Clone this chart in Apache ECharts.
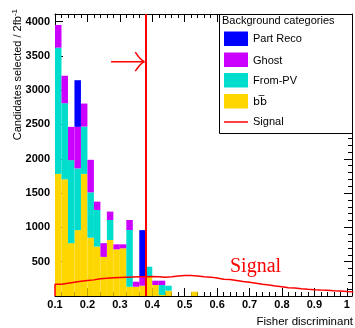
<!DOCTYPE html>
<html><head><meta charset="utf-8">
<script src="https://cdn.jsdelivr.net/npm/echarts@6/dist/echarts.min.js"></script>
<style>html,body{margin:0;padding:0;background:#fff}#c{width:355px;height:328px}</style>
</head><body><div id="c"></div>
<script>
// ---- data ----
const binStarts = [0.10,0.12,0.14,0.16,0.18,0.20,0.22,0.24,0.26,0.28,0.30,0.32,0.34,0.36,0.38,0.40,0.42,0.44,0.46,0.48,0.50,0.52];
const binWidth = 0.02;
const bbbar    = [1780,1700,770,960,1780,850,720,570,816,680,695,135,135,150,280,160,15,77,0,0,0,63];
const fromPV   = [1840,1110,1210,900,690,660,534,0,292,0,0,827,0,0,147,0,145,73,0,0,0,0];
const ghost    = [330,400,485,605,335,475,121,200,122,73,58,146,73,130,0,63,63,0,0,0,0,0];
const partReco = [0,0,0,680,0,0,0,0,0,0,0,0,0,680,0,0,0,0,0,0,0,0];
const signalStart = 0.10;
const signal = [170,185,200,215,225,235,250,258,265,270,275,278,280,282,285,280,275,280,290,300,300,290,280,275,262,245,240,225,210,200,185,170,160,145,135,120,115,105,97,92,88,85,78,72,65,62];
const cutValue = 0.378;
const arrow = [[0.273, 3415, 0.3755]];
const xTickLabels = ['0.1','0.2','0.3','0.4','0.5','0.6','0.7','0.8','0.9','1'];
const yTickLabels = ['500','1000','1500','2000','2500','3000','3500','4000'];

const colors = {part:'#0000ff', ghost:'#cc00ff', pv:'#00ddcc', bb:'#ffd700', sig:'#ff0000'};
const FONT = 'Liberation Sans, Arial, Helvetica, sans-serif';

// stacked bases
const layers = [
  {name:'bb', vals:bbbar, color:colors.bb},
  {name:'From-PV', vals:fromPV, color:colors.pv},
  {name:'Ghost', vals:ghost, color:colors.ghost},
  {name:'Part Reco', vals:partReco, color:colors.part}
];
const base = binStarts.map(()=>0);
const series = [];
layers.forEach(l=>{
  const data = [];
  binStarts.forEach((x,i)=>{
    if (l.vals[i] > 0) data.push([x, +(x+binWidth).toFixed(3), base[i], base[i]+l.vals[i]]);
    base[i] += l.vals[i];
  });
  series.push({
    type:'custom', name:l.name, silent:true, data, clip:true,
    encode:{x:[0,1], y:[2,3]},
    renderItem:(params, api)=>{
      const p0 = api.coord([api.value(0), api.value(2)]);
      const p1 = api.coord([api.value(1), api.value(3)]);
      return {type:'rect', shape:{x:p0[0], y:p1[1], width:p1[0]-p0[0], height:p0[1]-p1[1]},
              style:{fill:l.color, stroke:null}};
    }
  });
});

// signal step line
const sigData = [[signalStart, 0]];
signal.forEach((v,i)=>{
  const x0 = +(signalStart + i*binWidth).toFixed(3);
  const x1 = +(signalStart + (i+1)*binWidth).toFixed(3);
  sigData.push([x0, v], [x1, v]);
});
series.push({
  type:'line', name:'Signal', data:sigData, showSymbol:false, symbol:'none', silent:true, clip:true,
  lineStyle:{color:colors.sig, width:1.5}, z:5,
  markLine:{silent:true, symbol:['none','none'], label:{show:false},
    lineStyle:{color:colors.sig, width:2, type:'solid'},
    data:[{xAxis:cutValue}]}
});
// arrow
series.push({
  type:'custom', silent:true, data:arrow, z:6, clip:false,
  encode:{x:[0,2], y:1},
  renderItem:(params, api)=>{
    const a = api.coord([api.value(0), api.value(1)]);
    const b = api.coord([api.value(2), api.value(1)]);
    const st = {stroke:colors.sig, lineWidth:1.5, fill:null};
    return {type:'group', children:[
      {type:'line', shape:{x1:a[0], y1:a[1], x2:b[0], y2:b[1]}, style:st},
      {type:'bezierCurve', shape:{x1:b[0]-9, y1:b[1]-9.5, cpx1:b[0]-4, cpy1:b[1]-1.5, x2:b[0], y2:b[1]}, style:st},
      {type:'bezierCurve', shape:{x1:b[0]-9, y1:b[1]+9.5, cpx1:b[0]-4, cpy1:b[1]+1.5, x2:b[0], y2:b[1]}, style:st}
    ]};
  }
});

const axisCommon = {
  min:0.1, max:1.016, interval:0.1, type:'value',
  axisLine:{show:true, onZero:false, lineStyle:{color:'#000', width:1}},
  axisTick:{show:true, inside:true, length:8, lineStyle:{color:'#000', width:1}},
  minorTick:{show:true, splitNumber:5, length:4, lineStyle:{color:'#000', width:1}},
  splitLine:{show:false}
};
const yCommon = {
  min:0, max:4110, interval:500, type:'value',
  axisLine:{show:true, onZero:false, lineStyle:{color:'#000', width:1}},
  axisTick:{show:true, inside:true, length:8, lineStyle:{color:'#000', width:1}},
  minorTick:{show:true, splitNumber:5, length:4, lineStyle:{color:'#000', width:1}},
  splitLine:{show:false}
};

const chart = echarts.init(document.getElementById('c'), null, {renderer:'canvas'});
chart.setOption({
  animation:false,
  backgroundColor:'#fff',
  grid:{left:55, right:3, top:14, bottom:32, containLabel:false},
  xAxis:[
    Object.assign({}, axisCommon, {position:'bottom',
      axisLabel:{show:true, margin:3, fontFamily:FONT, fontSize:11, fontWeight:'bold', color:'#000',
        showMaxLabel:false,
        formatter:(v)=>{const i=Math.round((v-0.1)/0.1); return (Math.abs(v-(0.1+i*0.1))<1e-6 && xTickLabels[i])?xTickLabels[i]:'';}}}),
    Object.assign({}, axisCommon, {position:'top', axisLabel:{show:false}})
  ],
  yAxis:[
    Object.assign({}, yCommon, {position:'left',
      axisLabel:{show:true, margin:5, fontFamily:FONT, fontSize:11, fontWeight:'bold', color:'#000',
        showMinLabel:false, showMaxLabel:false,
        formatter:(v)=>{const i=Math.round(v/500)-1; return yTickLabels[i]||'';}}}),
    Object.assign({}, yCommon, {position:'right', axisLabel:{show:false}})
  ],
  series,
  graphic:[
    // y axis title
    {type:'text', x:18, y:9, rotation:Math.PI/2, z:10,
      style:{text:'Candidates selected / 2fb{sup|-1}', align:'right', verticalAlign:'middle',
        fontFamily:FONT, fontSize:11, fill:'#000',
        rich:{sup:{fontSize:8, fontFamily:FONT, fill:'#000', verticalAlign:'top', padding:[0,0,6,0]}}}},
    // x axis title
    {type:'text', x:353, y:322, z:10,
      style:{text:'Fisher discriminant', align:'right', verticalAlign:'middle', fontFamily:FONT, fontSize:11.5, fill:'#000'}},
    // Signal label
    {type:'text', x:230, y:267, z:10,
      style:{text:'Signal', align:'left', verticalAlign:'middle', fontFamily:'Liberation Serif, Times New Roman, serif', fontSize:20, fill:colors.sig}},
    // legend box
    {type:'rect', z:20, shape:{x:219.5, y:14.5, width:133, height:119}, style:{fill:'#fff', stroke:'#000', lineWidth:1}},
    {type:'text', z:21, x:222, y:20.5, style:{text:'Background categories', verticalAlign:'middle', fontFamily:FONT, fontSize:11, fill:'#000'}},
    {type:'rect', z:21, shape:{x:224, y:31.5, width:24, height:14.5}, style:{fill:colors.part}},
    {type:'text', z:21, x:253, y:39, style:{text:'Part Reco', verticalAlign:'middle', fontFamily:FONT, fontSize:11, fill:'#000'}},
    {type:'rect', z:21, shape:{x:224, y:52.5, width:24, height:14.5}, style:{fill:colors.ghost}},
    {type:'text', z:21, x:253, y:60.5, style:{text:'Ghost', verticalAlign:'middle', fontFamily:FONT, fontSize:11, fill:'#000'}},
    {type:'rect', z:21, shape:{x:224, y:73, width:24, height:14.5}, style:{fill:colors.pv}},
    {type:'text', z:21, x:253, y:81, style:{text:'From-PV', verticalAlign:'middle', fontFamily:FONT, fontSize:11, fill:'#000'}},
    {type:'rect', z:21, shape:{x:224, y:94, width:24, height:14.5}, style:{fill:colors.bb}},
    {type:'text', z:21, x:253, y:102, style:{text:'bb\u0305', verticalAlign:'middle', fontFamily:'DejaVu Sans, ' + FONT, fontSize:11, fill:'#000'}},
    {type:'line', z:21, shape:{x1:224, y1:122, x2:248, y2:122}, style:{stroke:colors.sig, lineWidth:1.5}},
    {type:'text', z:21, x:253, y:122, style:{text:'Signal', verticalAlign:'middle', fontFamily:FONT, fontSize:11, fill:'#000'}}
  ]
});
</script></body></html>
